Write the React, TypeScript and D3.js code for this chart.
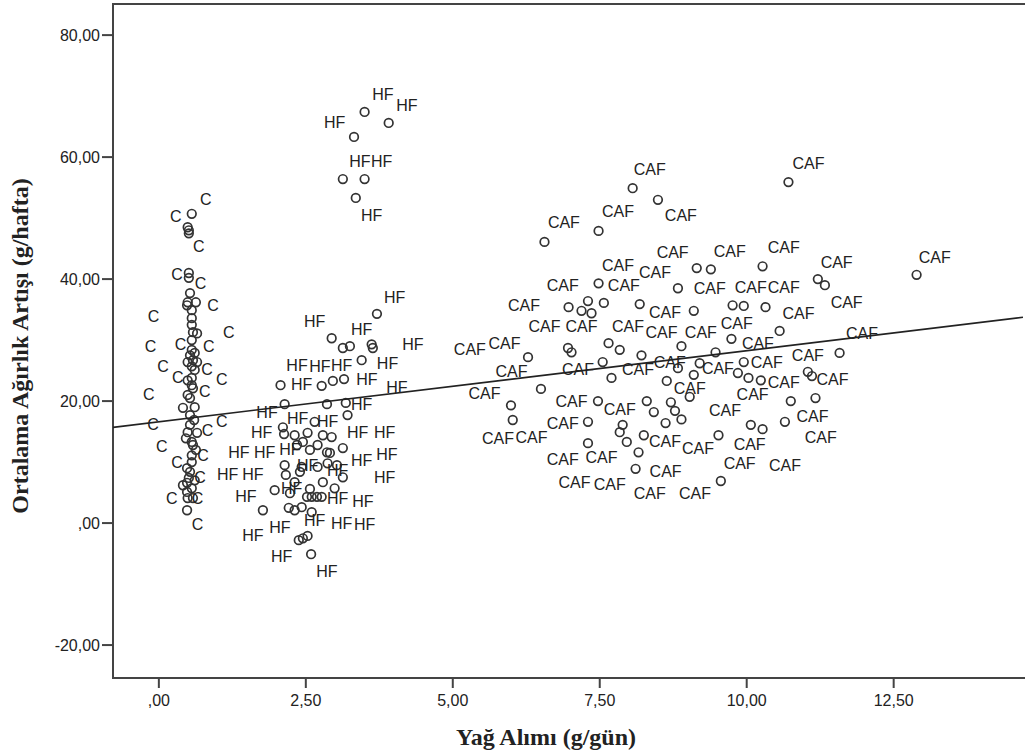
import React from "react";
import * as d3 from "d3";

// ---------- data ----------
const xTicks = [0, 2.5, 5, 7.5, 10, 12.5];
const yTicks = [-20, 0, 20, 40, 60, 80];
const xDomain = [-0.78, 14.7];
const yDomain = [-25.4, 85.1];
const fitIntercept = 16.6;
const fitSlope = 1.166;

const cPoints: [number, number][] = [
  [0.56, 50.7], [0.49, 48.5], [0.51, 48.0], [0.51, 47.5], [0.51, 41.0], [0.51, 40.2],
  [0.53, 37.7], [0.49, 36.2], [0.63, 36.2], [0.48, 35.7], [0.56, 34.9], [0.56, 33.6],
  [0.56, 32.5], [0.58, 31.3], [0.65, 31.1], [0.56, 30.0], [0.56, 28.4], [0.61, 27.9],
  [0.58, 26.7], [0.49, 26.4], [0.65, 26.4], [0.53, 27.5], [0.56, 25.7], [0.61, 25.1],
  [0.56, 23.8], [0.49, 23.4], [0.56, 22.6], [0.58, 22.1], [0.49, 21.0], [0.53, 20.5],
  [0.41, 18.9], [0.61, 19.0], [0.53, 17.7], [0.60, 16.9], [0.53, 16.1], [0.49, 14.9],
  [0.65, 14.8], [0.46, 13.9], [0.56, 13.3], [0.58, 12.8], [0.63, 12.0], [0.56, 11.1],
  [0.56, 10.0], [0.48, 9.0], [0.53, 8.4], [0.51, 7.4], [0.61, 7.0], [0.48, 6.6],
  [0.41, 6.2], [0.56, 5.7], [0.48, 5.1], [0.49, 4.1], [0.58, 4.1], [0.48, 2.1],
];
const cLabels: [number, number][] = [
  [0.80, 53.1], [0.29, 50.2], [0.68, 45.4], [0.31, 40.8], [0.71, 39.3], [0.92, 35.6],
  [-0.09, 33.9], [1.19, 31.3], [-0.14, 28.9], [0.37, 29.2], [0.85, 28.9], [0.07, 25.6],
  [0.32, 23.9], [0.82, 25.1], [1.07, 23.6], [-0.17, 21.0], [0.78, 21.5], [-0.10, 16.1],
  [0.83, 15.2], [1.07, 16.6], [0.05, 12.5], [0.31, 10.0], [0.75, 11.1], [0.70, 7.5],
  [0.22, 4.1], [0.66, 4.1], [0.66, -0.3],
];

const hfPoints: [number, number][] = [
  [3.50, 67.4], [3.91, 65.6], [3.32, 63.3], [3.13, 56.4], [3.50, 56.4], [3.35, 53.3],
  [3.71, 34.3], [2.94, 30.3], [3.13, 28.7], [3.25, 29.0], [3.62, 29.3], [3.64, 28.7],
  [3.45, 26.7], [2.07, 22.6], [2.77, 22.5], [2.96, 23.3], [3.15, 23.6], [2.14, 19.5],
  [2.86, 19.5], [3.18, 19.7], [3.21, 17.7], [2.65, 16.6], [2.11, 15.7], [2.13, 14.6],
  [2.31, 14.4], [2.53, 14.8], [2.79, 14.4], [2.94, 14.1], [2.35, 12.8], [2.45, 13.3],
  [2.57, 12.0], [2.70, 12.8], [2.86, 11.6], [2.91, 11.5], [3.13, 12.3], [2.14, 9.5],
  [2.43, 9.2], [2.70, 9.2], [2.87, 9.8], [3.03, 9.5], [2.16, 7.9], [2.40, 8.4],
  [3.13, 7.5], [2.31, 6.7], [2.79, 6.7], [2.99, 5.7], [1.97, 5.4], [2.23, 4.9],
  [2.57, 5.6], [2.52, 4.3], [2.60, 4.3], [2.69, 4.3], [2.77, 4.3], [1.77, 2.1],
  [2.21, 2.5], [2.31, 2.1], [2.43, 2.6], [2.60, 1.8], [2.38, -2.8], [2.45, -2.5],
  [2.53, -2.1], [2.59, -5.1],
];
const hfLabels: [number, number][] = [
  [3.81, 70.3], [4.22, 68.5], [2.99, 65.7], [3.42, 59.3], [3.79, 59.3], [3.62, 50.5],
  [4.01, 36.9], [2.65, 33.0], [3.45, 31.8], [4.32, 29.2], [2.35, 25.9], [2.74, 25.7],
  [3.11, 25.9], [3.89, 26.2], [2.43, 22.8], [3.54, 23.6], [4.05, 22.3], [1.84, 18.2],
  [3.45, 19.5], [2.36, 17.2], [2.87, 16.7], [1.75, 14.8], [3.38, 14.8], [3.84, 14.9],
  [1.36, 11.5], [1.80, 11.5], [2.23, 12.0], [3.45, 10.3], [3.88, 11.3], [2.53, 9.5],
  [3.04, 8.7], [1.17, 7.9], [1.60, 7.9], [3.84, 7.4], [2.26, 5.7], [1.48, 4.3],
  [3.04, 4.1], [3.47, 3.6], [2.06, -0.8], [1.60, -2.0], [2.65, 0.5], [3.11, 0.0],
  [3.50, -0.2], [2.09, -5.4], [2.86, -7.9],
];

const cafPoints: [number, number][] = [
  [8.06, 54.9], [8.49, 53.0], [7.48, 47.9], [6.56, 46.1], [10.71, 55.9], [12.89, 40.7],
  [7.48, 39.3], [6.97, 35.4], [7.30, 36.4], [7.19, 34.8], [7.36, 34.4], [7.57, 36.1],
  [8.18, 35.9], [9.15, 41.8], [9.39, 41.6], [10.27, 42.1], [8.83, 38.5], [11.21, 40.0],
  [11.33, 39.0], [9.10, 34.8], [9.76, 35.7], [9.95, 35.6], [10.32, 35.4], [10.56, 31.5],
  [6.28, 27.2], [6.96, 28.7], [7.02, 28.0], [7.65, 29.5], [7.84, 28.4], [8.21, 27.5],
  [7.55, 26.4], [7.70, 23.8], [6.50, 22.0], [5.99, 19.3], [7.47, 20.0], [8.30, 20.0],
  [6.02, 16.9], [7.30, 16.6], [7.89, 16.1], [7.84, 14.9], [8.25, 14.4], [7.30, 13.1],
  [7.96, 13.3], [8.16, 11.6], [8.11, 8.9], [8.89, 29.0], [9.74, 30.2], [9.47, 28.0],
  [11.58, 27.9], [8.83, 25.4], [9.20, 26.2], [9.10, 24.3], [9.85, 24.6], [9.95, 26.4],
  [10.03, 23.8], [10.24, 23.4], [11.04, 24.8], [11.11, 24.1], [8.64, 23.3], [9.03, 20.7],
  [10.75, 20.0], [11.17, 20.5], [8.42, 18.2], [8.71, 19.8], [8.78, 18.4], [8.89, 17.0],
  [8.62, 16.4], [10.07, 16.1], [10.27, 15.4], [10.65, 16.6], [9.52, 14.4], [9.56, 6.9],
];
const cafLabels: [number, number][] = [
  [8.35, 58.0], [7.81, 51.0], [6.89, 49.2], [8.88, 50.5], [11.05, 58.9], [13.20, 43.6],
  [7.81, 42.3], [8.44, 41.1], [6.87, 38.9], [7.91, 38.9], [6.21, 35.7], [6.56, 32.3],
  [7.19, 32.3], [7.98, 32.3], [8.74, 44.4], [9.71, 44.6], [10.63, 45.2], [11.53, 42.8],
  [9.37, 38.4], [10.07, 38.7], [10.63, 38.7], [11.70, 36.2], [8.61, 34.6], [10.88, 34.4],
  [9.83, 32.8], [8.55, 31.3], [9.22, 31.3], [5.29, 28.4], [5.88, 29.5], [6.00, 24.8],
  [7.13, 25.2], [8.15, 25.1], [5.54, 21.3], [7.02, 20.0], [7.84, 18.7], [6.87, 16.4],
  [5.77, 13.9], [6.34, 14.1], [6.87, 10.5], [7.53, 10.8], [7.07, 6.6], [7.67, 6.4],
  [8.35, 4.9], [10.19, 29.5], [11.04, 27.5], [11.96, 31.0], [8.69, 26.4], [9.51, 25.4],
  [10.34, 26.4], [10.63, 23.1], [11.46, 23.6], [9.03, 22.1], [10.10, 21.1], [9.63, 18.4],
  [11.12, 17.5], [8.61, 13.4], [9.17, 12.3], [10.05, 12.8], [11.26, 14.1], [8.62, 8.4],
  [9.88, 9.8], [10.65, 9.5], [9.12, 4.9],
];

const groups = [
  { name: "C", points: cPoints, labels: cLabels },
  { name: "HF", points: hfPoints, labels: hfLabels },
  { name: "CAF", points: cafPoints, labels: cafLabels },
];

const xTitle = "Yağ Alımı (g/gün)";
const yTitle = "Ortalama Ağırlık Artışı (g/hafta)";

const fmt = (v: number) => {
  const s = Math.abs(v).toFixed(2).replace(".", ",");
  const t = s.startsWith("0,") ? s.slice(1) : s;
  return (v < 0 ? "-" : "") + t;
};

export default function App() {
  const W = 1025;
  const H = 756;
  const left = 113, top = 4, right = 1023, bottom = 678;
  const x = d3.scaleLinear().domain(xDomain).range([left, right]);
  const y = d3.scaleLinear().domain(yDomain).range([bottom, top]);
  const fitLine = d3.line<number>()
    .x((d) => x(d))
    .y((d) => y(fitIntercept + fitSlope * d))(xDomain as number[]);
  const sans = "'Liberation Sans', Arial, sans-serif";
  const serif = "'Liberation Serif', 'Times New Roman', serif";
  return (
    <svg width={W} height={H} style={{ position: "absolute", left: 0, top: 0, background: "#fff" }}>
      <rect x={0} y={0} width={W} height={H} fill="#fff" />
      <defs>
        <clipPath id="plot">
          <rect x={left} y={top} width={W - left} height={bottom - top} />
        </clipPath>
      </defs>
      <path d={`M${W + 5},${top}H${left}V${bottom}H${W + 5}`} fill="none" stroke="#444" strokeWidth={2} />
      {yTicks.map((t) => (
        <g key={"y" + t}>
          <line x1={left - 11} x2={left} y1={y(t)} y2={y(t)} stroke="#444" strokeWidth={2} />
          <text x={left - 13} y={y(t)} textAnchor="end" dominantBaseline="central" fontFamily={sans} fontSize={16} fill="#222">
            {fmt(t)}
          </text>
        </g>
      ))}
      {xTicks.map((t) => (
        <g key={"x" + t}>
          <line x1={x(t)} x2={x(t)} y1={bottom} y2={bottom + 10} stroke="#444" strokeWidth={2} />
          <text x={x(t)} y={bottom + 22} textAnchor="middle" dominantBaseline="central" fontFamily={sans} fontSize={16} fill="#222">
            {fmt(t)}
          </text>
        </g>
      ))}
      <g clipPath="url(#plot)">
        {groups.map((g) => (
          <g key={g.name}>
            {g.points.map((p, i) => (
              <circle key={i} cx={x(p[0])} cy={y(p[1])} r={4.3} fill="none" stroke="#333" strokeWidth={1.7} />
            ))}
            {g.labels.map((p, i) => (
              <text key={"l" + i} x={x(p[0])} y={y(p[1])} textAnchor="middle" dominantBaseline="central" fontFamily={sans} fontSize={16} fill="#222">
                {g.name}
              </text>
            ))}
          </g>
        ))}
        <path d={fitLine || ""} fill="none" stroke="#222" strokeWidth={1.6} />
      </g>
      <text x={546} y={737} textAnchor="middle" dominantBaseline="central" fontFamily={serif} fontWeight="bold" fontSize={24} fill="#222">
        {xTitle}
      </text>
      <text transform={`translate(20,346) rotate(-90)`} textAnchor="middle" dominantBaseline="central" fontFamily={serif} fontWeight="bold" fontSize={24} fill="#222">
        {yTitle}
      </text>
    </svg>
  );
}
